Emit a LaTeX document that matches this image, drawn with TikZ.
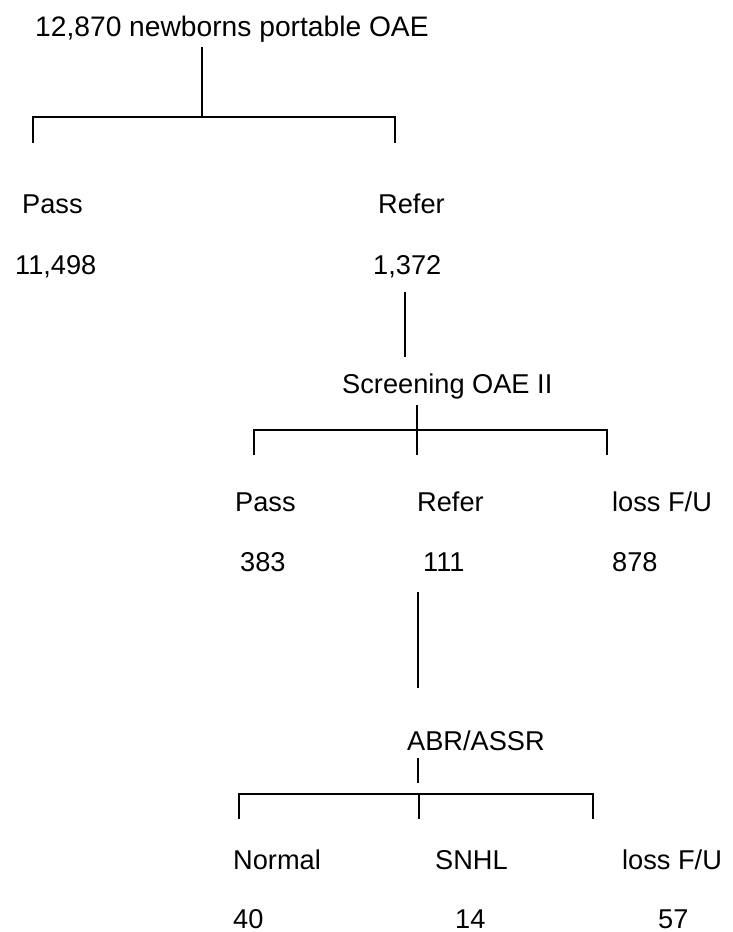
\documentclass[tikz,border=0pt]{standalone}
\usepackage{fontspec}
\setmainfont{Liberation Sans}
\begin{document}
\begin{tikzpicture}[x=1pt,y=-1pt,
  lbl/.style={anchor=base west,inner sep=0pt,font=\fontsize{27.2}{31}\selectfont},
  conn/.style={line width=1.6pt}]
\useasboundingbox (0,0) rectangle (733,932);
% texts
\node[lbl,font=\fontsize{28.2}{32}\selectfont] (top) at (35,36) {12,870 newborns portable OAE};
\node[lbl] (pass1) at (22,213) {Pass};
\node[lbl] (n11498) at (15,274) {11,498};
\node[lbl] (refer1) at (378,213) {Refer};
\node[lbl] (n1372) at (373,274) {1,372};
\node[lbl] (scr) at (342,393) {Screening OAE II};
\node[lbl] (pass2) at (235,511) {Pass};
\node[lbl] (refer2) at (417,511) {Refer};
\node[lbl] (loss2) at (612,511) {loss F/U};
\node[lbl] (n383) at (240,571) {383};
\node[lbl] (n111) at (423,571) {111};
\node[lbl] (n878) at (612,571) {878};
\node[lbl] (abr) at (407,750) {ABR/ASSR};
\node[lbl] (normal) at (233,869) {Normal};
\node[lbl] (snhl) at (435,869) {SNHL};
\node[lbl] (loss3) at (622,869) {loss F/U};
\node[lbl] (n40) at (233,928) {40};
\node[lbl] (n14) at (455,928) {14};
\node[lbl] (n57) at (658,928) {57};
% level 1 bracket
\coordinate (a0) at (202,47);
\coordinate (a1) at (202,117);
\coordinate (aL) at (33,117);
\coordinate (aR) at (395,117);
\coordinate (aLb) at (33,143);
\coordinate (aRb) at (395,143);
\draw[conn] (a0) -- (a1);
\draw[conn] (aLb) -- (aL) -- (aR) -- (aRb);
% 1,372 to screening
\coordinate (b0) at (405,292);
\coordinate (b1) at (405,357);
\draw[conn] (b0) -- (b1);
% level 2 bracket
\coordinate (c0) at (417,405);
\coordinate (c1) at (417,455);
\coordinate (cL) at (254,430);
\coordinate (cR) at (607,430);
\coordinate (cLb) at (254,455);
\coordinate (cRb) at (607,455);
\draw[conn] (c0) -- (c1);
\draw[conn] (cLb) -- (cL) -- (cR) -- (cRb);
% 111 to ABR
\coordinate (d0) at (418,592);
\coordinate (d1) at (418,688);
\draw[conn] (d0) -- (d1);
% level 3 bracket
\coordinate (e0) at (418,758);
\coordinate (e1) at (418,783);
\coordinate (eL) at (239,794);
\coordinate (eR) at (593,794);
\coordinate (eM) at (419,794);
\coordinate (eLb) at (239,819);
\coordinate (eMb) at (419,819);
\coordinate (eRb) at (593,819);
\draw[conn] (e0) -- (e1);
\draw[conn] (eLb) -- (eL) -- (eR) -- (eRb);
\draw[conn] (eM) -- (eMb);
\end{tikzpicture}
\end{document}
